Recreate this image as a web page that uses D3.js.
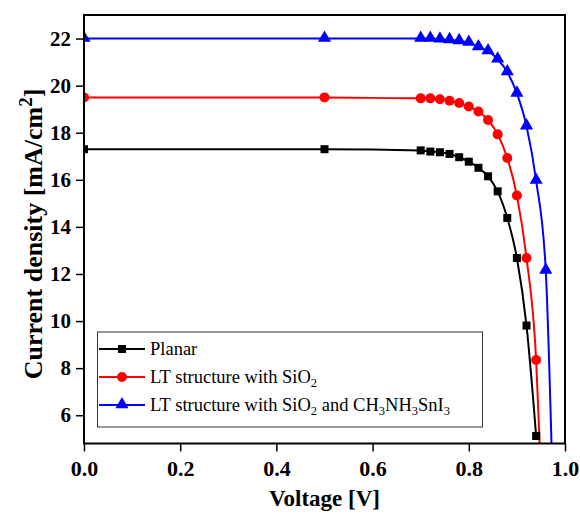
<!DOCTYPE html>
<html>
<head>
<meta charset="utf-8">
<script src="https://cdn.jsdelivr.net/npm/d3@7"></script>
<style>
  html, body { margin: 0; padding: 0; background: #fff; }
  svg { display: block; }
  text { font-family: "Liberation Serif", "Times New Roman", serif; }
</style>
</head>
<body>
<svg id="chart" width="580" height="521"></svg>
<script>
// ---- data ----
const voltagePlanar = [0, 0.5, 0.7, 0.72, 0.74, 0.76, 0.78, 0.8, 0.82, 0.84, 0.86, 0.88, 0.9, 0.92, 0.94];
const planar        = [17.3, 17.3, 17.25, 17.2, 17.17, 17.1, 16.96, 16.77, 16.51, 16.15, 15.51, 14.38, 12.68, 9.81, 5.12];

const voltageSiO2 = [0, 0.5, 0.7, 0.72, 0.74, 0.76, 0.78, 0.8, 0.82, 0.84, 0.86, 0.88, 0.9, 0.92, 0.94];
const ltSiO2      = [19.5, 19.5, 19.46, 19.46, 19.42, 19.36, 19.26, 19.11, 18.9, 18.54, 17.93, 16.93, 15.33, 12.68, 8.35];

const voltageSn = [0, 0.5, 0.7, 0.72, 0.74, 0.76, 0.78, 0.8, 0.82, 0.84, 0.86, 0.88, 0.9, 0.92, 0.94, 0.96];
const ltSiO2Sn  = [22.0, 22.0, 22.0, 22.0, 21.97, 21.94, 21.9, 21.83, 21.64, 21.47, 21.12, 20.58, 19.67, 18.28, 15.97, 12.15];

// end of each curve (open-circuit side, below the visible axis, line only)
const tailVoltage = [null, 0.949, 0.973];
const tailCurrent = [null, 4.0, 4.0];

const seriesNames  = ["Planar", "LT structure with SiO2", "LT structure with SiO2 and CH3NH3SnI3"];
const seriesColors = ["#000000", "#ff0000", "#0000ff"];
const seriesShapes = ["square", "circle", "triangle"];

const xTicks = [0.0, 0.2, 0.4, 0.6, 0.8, 1.0];
const yTicks = [6, 8, 10, 12, 14, 16, 18, 20, 22];

// ---- chart ----
const svg = d3.select("#chart");
const mLeft = 84, mRight = 565, mTop = 15, mBottom = 443.5;

const x = d3.scaleLinear().domain([0, 1.0]).range([mLeft, mRight]);
const y = d3.scaleLinear().domain([4.8, 23]).range([mBottom, mTop]);

svg.append("defs").append("clipPath").attr("id", "plotClip")
  .append("rect").attr("x", mLeft).attr("y", mTop)
  .attr("width", mRight - mLeft).attr("height", mBottom - mTop);

const xs = [voltagePlanar, voltageSiO2, voltageSn];
const ys = [planar, ltSiO2, ltSiO2Sn];

const series = seriesNames.map((name, i) => {
  const pts = xs[i].map((v, j) => ({ v, j: ys[i][j] }));
  const linePts = pts.slice();
  if (tailVoltage[i] !== null) linePts.push({ v: tailVoltage[i], j: tailCurrent[i] });
  return { name, color: seriesColors[i], shape: seriesShapes[i], pts, linePts };
});

const line = d3.line().x(d => x(d.v)).y(d => y(d.j)).curve(d3.curveMonotoneX);

const plot = svg.append("g").attr("clip-path", "url(#plotClip)");

function drawMarker(g, shape, color, cx, cy) {
  if (shape === "square") {
    g.append("rect").attr("x", cx - 4).attr("y", cy - 4).attr("width", 8).attr("height", 8).attr("fill", color);
  } else if (shape === "circle") {
    g.append("circle").attr("cx", cx).attr("cy", cy).attr("r", 5).attr("fill", color);
  } else {
    const s = d3.symbol().type(d3.symbolTriangle).size(75);
    g.append("path").attr("d", s()).attr("transform", `translate(${cx},${cy - 0.5})`).attr("fill", color);
  }
}

series.forEach(s => {
  plot.append("path").datum(s.linePts).attr("d", line)
    .attr("fill", "none").attr("stroke", s.color).attr("stroke-width", 2);
});
series.forEach(s => {
  s.pts.forEach(p => drawMarker(plot, s.shape, s.color, x(p.v), y(p.j)));
});

// axes
const xAxis = svg.append("g").attr("transform", `translate(0,${mBottom})`)
  .call(d3.axisBottom(x).tickValues(xTicks).tickFormat(d3.format(".1f")).tickSize(8).tickPadding(9));
const yAxis = svg.append("g").attr("transform", `translate(${mLeft},0)`)
  .call(d3.axisLeft(y).tickValues(yTicks).tickFormat(d3.format("d")).tickSize(8).tickPadding(5));

[xAxis, yAxis].forEach(a => {
  a.select(".domain").remove();
  a.selectAll(".tick line").attr("stroke", "#000").attr("stroke-width", 1.5);
  a.selectAll(".tick text").attr("fill", "#000").attr("font-weight", "bold")
    .style("font-family", '"Liberation Serif", "Times New Roman", serif');
});
xAxis.selectAll(".tick text").attr("font-size", 22);
yAxis.selectAll(".tick text").attr("font-size", 21);

// frame
svg.append("rect").attr("x", mLeft).attr("y", mTop).attr("width", mRight - mLeft).attr("height", mBottom - mTop)
  .attr("fill", "none").attr("stroke", "#000").attr("stroke-width", 2);

// axis titles
svg.append("text").attr("x", (mLeft + mRight) / 2).attr("y", 506)
  .attr("text-anchor", "middle").attr("font-size", 23).attr("font-weight", "bold")
  .text("Voltage [V]");

const yt = svg.append("text").attr("transform", `translate(42,234) rotate(-90)`)
  .attr("text-anchor", "middle").attr("font-size", 26).attr("font-weight", "bold");
yt.append("tspan").text("Current density [mA/cm");
yt.append("tspan").attr("dy", -10).attr("font-size", 19).text("2");
yt.append("tspan").attr("dy", 10).text("]");

// legend
const lg = svg.append("g");
lg.append("rect").attr("x", 97.5).attr("y", 332).attr("width", 385).attr("height", 95)
  .attr("fill", "#fff").attr("stroke", "#333").attr("stroke-width", 1);

const rowY = [349, 377, 405];
series.forEach((s, i) => {
  const ry = rowY[i];
  lg.append("line").attr("x1", 99).attr("x2", 145).attr("y1", ry).attr("y2", ry)
    .attr("stroke", s.color).attr("stroke-width", 2);
  drawMarker(lg, s.shape, s.color, 122, ry);
  const t = lg.append("text").attr("x", 150).attr("y", ry + 6).attr("font-size", 18.5).attr("fill", "#000");
  if (i === 0) {
    t.text("Planar");
  } else {
    t.append("tspan").text("LT structure with SiO");
    t.append("tspan").attr("dy", 4).attr("font-size", 12.5).text("2");
    if (i === 2) {
      t.append("tspan").attr("dy", -4).text(" and CH");
      t.append("tspan").attr("dy", 4).attr("font-size", 12.5).text("3");
      t.append("tspan").attr("dy", -4).text("NH");
      t.append("tspan").attr("dy", 4).attr("font-size", 12.5).text("3");
      t.append("tspan").attr("dy", -4).text("SnI");
      t.append("tspan").attr("dy", 4).attr("font-size", 12.5).text("3");
    }
  }
});
</script>
</body>
</html>
